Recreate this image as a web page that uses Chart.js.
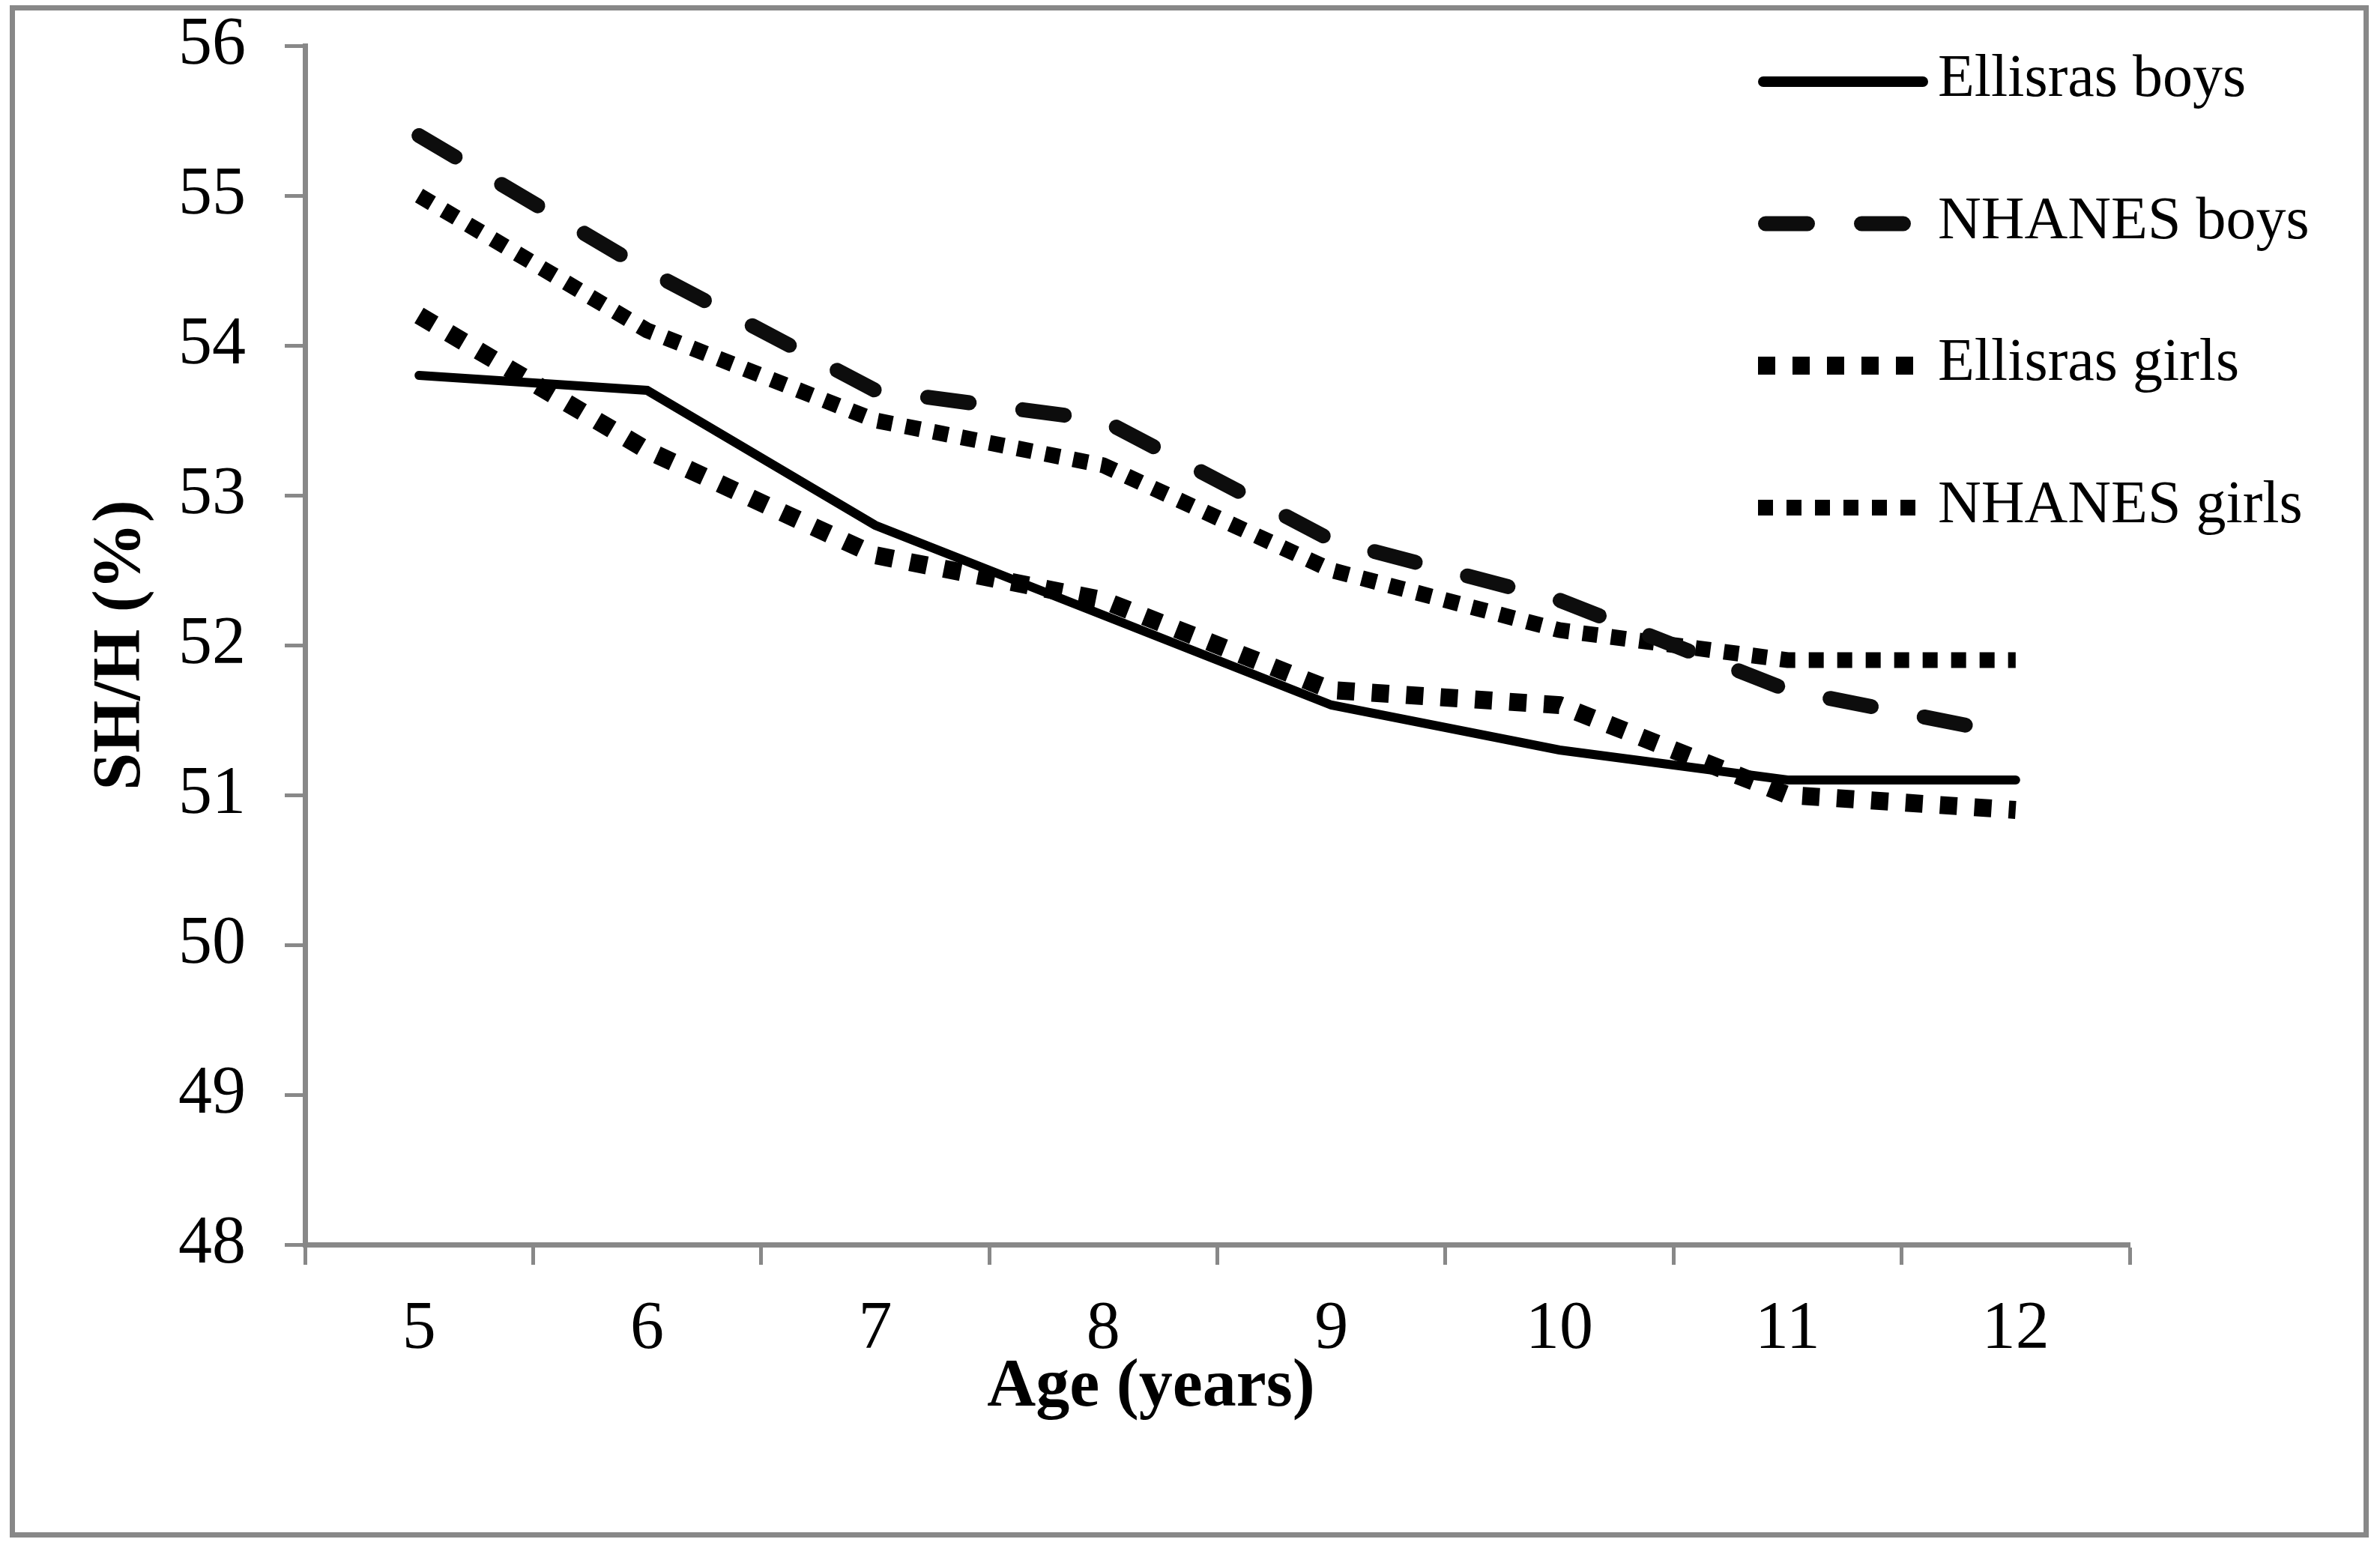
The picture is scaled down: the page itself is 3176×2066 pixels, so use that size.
<!DOCTYPE html>
<html>
<head>
<meta charset="utf-8">
<title>SH/H by age</title>
<script src="https://cdn.jsdelivr.net/npm/chart.js@4.4.1/dist/chart.umd.min.js"></script>
<style>
  html, body { margin: 0; padding: 0; background: #fff; }
  canvas { display: block; }
</style>
</head>
<body>
<canvas id="shChart" width="3176" height="2066"></canvas>
<script>
// ---- Data ----
const ages          = ['5', '6', '7', '8', '9', '10', '11', '12'];
const ellisrasBoys  = [53.8, 53.7, 52.8, 52.2, 51.6, 51.3, 51.1, 51.1];
const nhanesBoys    = [55.4, 54.5, 53.7, 53.5, 52.7, 52.3, 51.7, 51.4];
const ellisrasGirls = [54.2, 53.3, 52.6, 52.3, 51.7, 51.6, 51.0, 50.9];
const nhanesGirls   = [55.0, 54.1, 53.5, 53.2, 52.5, 52.1, 51.9, 51.9];
const yTicks        = [48, 49, 50, 51, 52, 53, 54, 55, 56];

const SERIF = '"Liberation Serif", "Times New Roman", serif';
const GREY = '#888888';

// ---- Outer frame + white background ----
const framePlugin = {
    id: 'frame',
    beforeDraw(chart) {
        const ctx = chart.ctx;
        ctx.save();
        ctx.fillStyle = '#fff';
        ctx.fillRect(0, 0, chart.width, chart.height);
        ctx.strokeStyle = GREY;
        ctx.lineWidth = 7;
        ctx.strokeRect(16.5, 10.5, 3141, 2038);
        ctx.restore();
    }
};

// ---- X title (sits left of centre in the original) ----
const xTitlePlugin = {
    id: 'xTitle',
    afterDraw(chart) {
        const ctx = chart.ctx;
        ctx.save();
        ctx.font = 'bold 90px ' + SERIF;
        ctx.fillStyle = '#000';
        ctx.textAlign = 'center';
        ctx.textBaseline = 'alphabetic';
        ctx.fillText('Age (years)', 1536, 1876);
        ctx.restore();
    }
};

// ---- Legend drawn inside the plot, top right ----
const legendPlugin = {
    id: 'lineLegend',
    afterDraw(chart) {
        const ctx = chart.ctx;
        const x0 = 2346, x1 = 2573, textX = 2586;
        chart.data.datasets.forEach((ds, i) => {
            const y = 109 + i * 189.5;
            ctx.save();
            ctx.strokeStyle = ds.borderColor;
            ctx.lineWidth = ds.legendWidth || ds.borderWidth;
            ctx.lineCap = ds.borderCapStyle || 'butt';
            ctx.setLineDash(ds.borderDash || []);
            const capPad = ctx.lineCap === 'round' ? ctx.lineWidth / 2 : 0;
            ctx.beginPath();
            ctx.moveTo(x0 + capPad, y);
            ctx.lineTo(x1 - capPad, y);
            ctx.stroke();
            ctx.setLineDash([]);
            ctx.font = '80px ' + SERIF;
            ctx.fillStyle = '#000';
            ctx.textAlign = 'left';
            ctx.textBaseline = 'middle';
            ctx.fillText(ds.label, textX, y - 2);
            ctx.restore();
        });
    }
};

// ---- Chart ----
const ctx = document.getElementById('shChart');
new Chart(ctx, {
    type: 'line',
    data: {
        labels: ages,
        datasets: [
            {
                label: 'Ellisras boys',
                data: ellisrasBoys,
                borderColor: '#000',
                borderWidth: 12,
                legendWidth: 14,
                borderCapStyle: 'round',
                borderDash: [],
            },
            {
                label: 'NHANES boys',
                data: nhanesBoys,
                borderColor: '#0d0d0d',
                borderWidth: 20,
                borderCapStyle: 'round',
                borderDash: [56, 72],
            },
            {
                label: 'Ellisras girls',
                data: ellisrasGirls,
                borderColor: '#000',
                borderWidth: 24,
                borderCapStyle: 'butt',
                borderDash: [23, 23],
            },
            {
                label: 'NHANES girls',
                data: nhanesGirls,
                borderColor: '#000',
                borderWidth: 21,
                borderCapStyle: 'butt',
                borderDash: [20, 18],
            }
        ]
    },
    options: {
        responsive: false,
        animation: false,
        devicePixelRatio: 1,
        layout: { padding: { top: 61, right: 334, left: 0, bottom: 0 } },
        elements: {
            point: { radius: 0, hoverRadius: 0 },
            line: { tension: 0, fill: false }
        },
        plugins: {
            legend: { display: false },
            tooltip: { enabled: false }
        },
        scales: {
            x: {
                offset: true,
                grid: {
                    offset: true,
                    drawOnChartArea: false,
                    drawTicks: true,
                    tickLength: 27,
                    tickWidth: 5,
                    tickColor: GREY,
                    color: GREY
                },
                border: { display: true, color: GREY, width: 7 },
                ticks: {
                    color: '#000',
                    font: { family: SERIF, size: 90 },
                    padding: 33,
                    maxRotation: 0
                },
                afterFit(scale) { scale.height = 405; }
            },
            y: {
                min: yTicks[0],
                max: yTicks[yTicks.length - 1],
                grid: {
                    drawOnChartArea: false,
                    drawTicks: true,
                    tickLength: 27,
                    tickWidth: 5,
                    tickColor: GREY,
                    color: GREY
                },
                border: { display: true, color: GREY, width: 7 },
                ticks: {
                    stepSize: 1,
                    color: '#000',
                    font: { family: SERIF, size: 90 },
                    padding: 52
                },
                title: {
                    display: true,
                    text: 'SH/H (%)',
                    color: '#000',
                    font: { family: SERIF, size: 90, weight: 'bold' },
                    padding: { top: 109, bottom: 0 }
                },
                afterFit(scale) {
                    scale.width = 407;
                    // labels may overflow into the layout padding, keep the plot top at 61
                    scale.paddingTop = 0;
                    scale.paddingBottom = 0;
                }
            }
        }
    },
    plugins: [framePlugin, xTitlePlugin, legendPlugin]
});
</script>
</body>
</html>
